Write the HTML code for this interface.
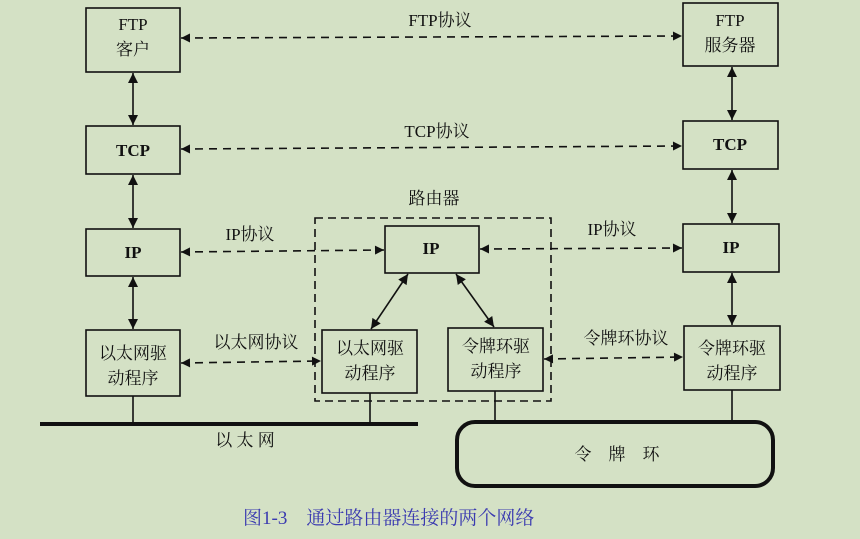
<!DOCTYPE html>
<html><head><meta charset="utf-8"><style>
html,body{margin:0;padding:0;background:#d4e1c5;}
svg{display:block}
text{font-family:"Liberation Serif","Noto Serif CJK SC",serif;fill:#111;}
</style></head><body>
<svg width="860" height="539" viewBox="0 0 860 539">
<defs>
<marker id="a" viewBox="0 0 10 10" refX="10" refY="5" markerWidth="14" markerHeight="9" markerUnits="userSpaceOnUse" orient="auto-start-reverse"><path d="M0,0 L10,5 L0,10 z" fill="#111"/></marker>
<marker id="b" viewBox="0 0 10 10" refX="10" refY="5" markerWidth="18" markerHeight="10" markerUnits="userSpaceOnUse" orient="auto-start-reverse"><path d="M0,0 L10,5 L0,10 z" fill="#111"/></marker>
</defs>
<rect width="860" height="539" fill="#d4e1c5"/>
<g fill="none" stroke="#111" stroke-width="1.6">
<rect x="86" y="8" width="94" height="64"/>
<rect x="86" y="126" width="94" height="48"/>
<rect x="86" y="229" width="94" height="47"/>
<rect x="86" y="330" width="94" height="66"/>
<rect x="683" y="3" width="95" height="63"/>
<rect x="683" y="121" width="95" height="48"/>
<rect x="683" y="224" width="96" height="48"/>
<rect x="684" y="326" width="96" height="64"/>
<rect x="385" y="226" width="94" height="47"/>
<rect x="322" y="330" width="95" height="63"/>
<rect x="448" y="328" width="95" height="63"/>
<rect x="315" y="218" width="236" height="183" stroke-dasharray="8,5"/>
<rect x="457" y="422" width="316" height="64" rx="18" stroke-width="4"/>
<line x1="40" y1="424" x2="418" y2="424" stroke-width="4"/>
<line x1="133" y1="396" x2="133" y2="424"/>
<line x1="370" y1="393" x2="370" y2="424"/>
<line x1="495" y1="391" x2="495" y2="421"/>
<line x1="732" y1="390" x2="732" y2="421"/>
</g>
<g stroke="#111" stroke-width="1.6" fill="none" marker-start="url(#b)" marker-end="url(#b)">
<line x1="133" y1="73" x2="133" y2="125"/>
<line x1="133" y1="175" x2="133" y2="228"/>
<line x1="133" y1="277" x2="133" y2="329"/>
<line x1="732" y1="67" x2="732" y2="120"/>
<line x1="732" y1="170" x2="732" y2="223"/>
<line x1="732" y1="273" x2="732" y2="325"/>
<line x1="408" y1="274" x2="371" y2="329"/>
<line x1="456" y1="274" x2="494" y2="327"/>
</g>
<g stroke="#111" stroke-width="1.6" fill="none" stroke-dasharray="8,6" marker-start="url(#a)" marker-end="url(#a)">
<line x1="181" y1="38" x2="682" y2="36"/>
<line x1="181" y1="149" x2="682" y2="146"/>
<line x1="181" y1="252" x2="384" y2="250"/>
<line x1="480" y1="249" x2="682" y2="248"/>
<line x1="181" y1="363" x2="321" y2="361"/>
<line x1="544" y1="359" x2="683" y2="357"/>
</g>
<g font-size="17" text-anchor="middle">
<text x="133" y="30">FTP</text><text x="133" y="55">客户</text>
<text x="133" y="156" font-weight="bold">TCP</text>
<text x="133" y="258" font-weight="bold">IP</text>
<text x="133" y="359">以太网驱</text><text x="133" y="384">动程序</text>
<text x="730" y="26">FTP</text><text x="730" y="51">服务器</text>
<text x="730" y="150" font-weight="bold">TCP</text>
<text x="731" y="253" font-weight="bold">IP</text>
<text x="732" y="354">令牌环驱</text><text x="732" y="379">动程序</text>
<text x="431" y="254" font-weight="bold">IP</text>
<text x="370" y="354">以太网驱</text><text x="370" y="379">动程序</text>
<text x="496" y="352">令牌环驱</text><text x="496" y="377">动程序</text>
<text x="440" y="26">FTP协议</text>
<text x="437" y="137">TCP协议</text>
<text x="434" y="204">路由器</text>
<text x="250" y="240">IP协议</text>
<text x="612" y="235">IP协议</text>
<text x="256" y="348">以太网协议</text>
<text x="626" y="344">令牌环协议</text>
<text x="245" y="446">以 太 网</text>
<text x="617" y="460">令　牌　环</text>
</g>
<text x="243" y="524" font-size="19" style="fill:#3a3ab0">图1-3　通过路由器连接的两个网络</text>
</svg>
</body></html>
